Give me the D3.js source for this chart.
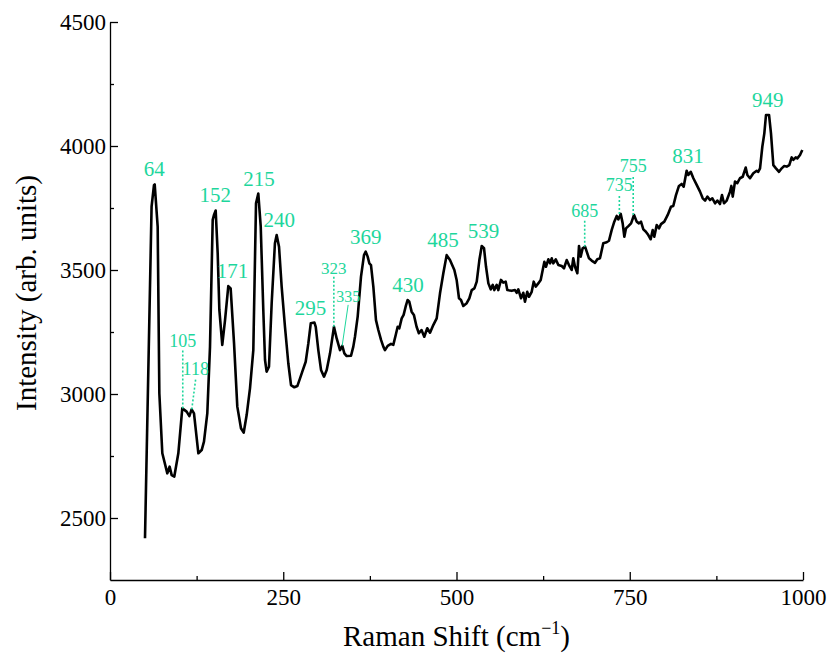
<!DOCTYPE html>
<html>
<head lang="en">
    <meta charset="utf-8">
    <script src="https://d3js.org/d3.v7.min.js"></script>
    <style>
        body { margin: 0; background: #fff; }
        svg text { font-family: "Liberation Serif", "Times New Roman", serif !important; }
    </style>
</head>
<body>
    <div id="chart"></div>

    <script>
        // Raman spectrum
        const shift = [50.5, 60, 63.5, 64.5, 68.8, 71.2, 75.5, 82.7, 86, 89, 92.8, 98.6, 104.3, 110.6, 114.5, 117.8,
            121.2, 127.5, 132.3, 135.6, 140.4, 144.3, 148.2, 150, 152.5, 155.4, 157.8, 162, 166, 170.7, 174.1, 179,
            183.7, 189, 192.9, 197.2, 202, 206.8, 210.7, 214, 217.5, 221.2, 223.7, 226, 229.4, 233.3, 238, 240.5,
            243.9, 247.7, 252.5, 257.3, 261.2, 266, 270.3, 274.2, 277.5, 282.4, 286.2, 289.7, 295, 296.9, 300.6,
            304.5, 308.8, 312.7, 317.5, 323.2, 327.1, 331.9, 335.2, 338.2, 341.5, 347.8, 351.1, 353.5, 357.4, 362.2,
            366.5, 369, 371.8, 374.2, 376.6, 380, 383.8, 387.2, 391.1, 394.4, 396.8, 400.7, 405.5, 408.8, 412.3,
            415.1, 417.5, 420.9, 423.7, 426.6, 429.4, 431.9, 435.2, 438.5, 442.4, 445.7, 449.5, 453.5, 457.8, 461.8,
            466.5, 471.4, 476.2, 481, 485.8, 490.6, 496.9, 500.2, 503.6, 506.5, 509.8, 514.7, 518.5, 522, 525.8,
            529.2, 533, 536.4, 539.7, 542.6, 546, 549.4, 552.3, 554.6, 558, 560.3, 564.2, 567.5, 571, 573.3, 579.6,
            584.4, 586.9, 589.2, 593.1, 596.4, 598.8, 602.1, 604.6, 608.5, 611.4, 614.3, 618, 621.5, 624.4, 626.8,
            629.1, 632.5, 635, 637.4, 639.7, 643.2, 647, 651.8, 655.1, 659, 662.3, 666.2, 668.5, 671, 674.4, 676.8,
            679.2, 682, 685.5, 691.2, 695, 699.9, 703.2, 707, 711.8, 716.7, 720, 723.9, 727.7, 731.2, 733.5, 737,
            739.8, 742.2, 744.6, 748, 751.9, 756.2, 760, 763.3, 766.2, 769.6, 773, 776.8, 780.2, 783.1, 785.4, 788.9,
            792.2, 795.1, 799.9, 804.8, 809.5, 812.8, 816.7, 821, 824.9, 827.8, 832.1, 834.5, 838, 841.8, 846.6,
            851.4, 855.3, 858.7, 862, 865.8, 869.2, 873.2, 876.4, 880.2, 883.1, 886, 889.9, 894.7, 896.6, 898.6,
            901.9, 905.2, 909, 913, 917.3, 919.7, 923.5, 928.3, 933.2, 935.5, 938, 941.3, 944.2, 946.6, 951, 953.8,
            957.2, 961, 965.4, 969.3, 972.6, 976.5, 980.2, 983.7, 986, 989.5, 991.8, 995.7, 999];

        const intensity = [2418, 3755, 3843, 3845, 3675, 3003, 2761, 2680, 2707, 2673, 2667, 2761, 2942, 2929, 2911, 2938,
            2922, 2761, 2774, 2808, 2922, 3190, 3702, 3722, 3740, 3567, 3339, 3198, 3298, 3435, 3426, 3204,
            2949, 2862, 2844, 2915, 3023, 3177, 3769, 3808, 3675, 3339, 3137, 3090, 3110, 3366, 3608, 3641,
            3594, 3433, 3271, 3124, 3036, 3027, 3032, 3063, 3090, 3130, 3204, 3285, 3288, 3271, 3177,
            3097, 3070, 3097, 3164, 3271, 3224, 3177, 3194, 3164, 3153, 3154, 3191, 3231, 3312, 3473,
            3560, 3574, 3554, 3527, 3520, 3433, 3298, 3258, 3218, 3191, 3177, 3194, 3202, 3198, 3238,
            3271, 3265, 3305, 3319, 3352, 3379, 3372, 3332, 3319, 3271, 3245, 3258, 3231, 3265, 3247,
            3278, 3305, 3406, 3487, 3560, 3540, 3500, 3460, 3386, 3379, 3355, 3366, 3386, 3419, 3426,
            3453, 3540, 3597, 3588, 3513, 3446, 3422, 3440, 3419, 3440, 3419, 3460, 3449, 3453, 3419, 3416,
            3419, 3408, 3422, 3386, 3408, 3372, 3412, 3392, 3412, 3453, 3433, 3446, 3460, 3500, 3533,
            3513, 3543, 3527, 3547, 3527, 3543, 3520, 3516, 3507, 3540, 3520, 3500, 3547, 3513, 3487, 3597,
            3554, 3587, 3594, 3547, 3538, 3529, 3543, 3547, 3608, 3612, 3618, 3661, 3695, 3718, 3704, 3726,
            3688, 3634, 3668, 3677, 3688, 3722, 3695, 3688, 3695, 3664, 3655, 3641, 3624, 3661, 3634, 3681,
            3668, 3685, 3695, 3722, 3755, 3758, 3802, 3839, 3847, 3836, 3900, 3883, 3896, 3870, 3843,
            3816, 3789, 3780, 3796, 3782, 3789, 3769, 3780, 3766, 3802, 3769, 3780, 3816, 3839, 3796,
            3857, 3850, 3870, 3876, 3913, 3883, 3870, 3890, 3900, 3896, 3910, 3997, 4051, 4125, 4125, 4051,
            3923, 3910, 3896, 3910, 3919, 3917, 3923, 3954, 3944, 3954, 3950, 3964, 3984];

        // labelled peaks (position in cm-1, intensity at the top of the peak)
        const peakShift = [64, 152, 171, 215, 240, 295, 369, 430, 485, 539, 831, 949];
        const peakTop = [3845, 3740, 3435, 3808, 3641, 3288, 3574, 3379, 3560, 3597, 3900, 4125];

        // small peaks marked with a leader line
        const minorShift = [105, 118, 323, 335, 685, 735, 755];
        const minorTop = [2942, 2938, 3271, 3194, 3594, 3726, 3722];

        const xTicks = [0, 250, 500, 750, 1000];
        const yTicks = [2500, 3000, 3500, 4000, 4500];

        const width = 830;
        const height = 655;
        const green = '#1ed69c';
        const serif = '"Liberation Serif", "Times New Roman", serif';

        const svg = d3.create('svg')
            .attr('width', width)
            .attr('height', height)
            .style('font-family', serif);

        const xScale = d3.scaleLinear()
            .domain([0, 1000])
            .range([110, 803]);

        const yScale = d3.scaleLinear()
            .domain([2250, 4500])
            .range([580, 22]);

        // axes, ticks pointing inwards
        svg.append('g')
            .attr('transform', `translate(0, ${yScale(2250)})`)
            .call(d3.axisBottom(xScale).tickValues(xTicks).tickSizeInner(-8).tickSizeOuter(0).tickPadding(9)
                .tickFormat(d3.format('d')));
        svg.append('g')
            .attr('transform', `translate(0, ${yScale(2250)})`)
            .call(d3.axisBottom(xScale).tickValues([125, 375, 625, 875]).tickSizeInner(-4).tickSizeOuter(0)
                .tickFormat(''))
            .select('.domain').remove();

        svg.append('g')
            .attr('transform', `translate(${xScale(0)}, 0)`)
            .call(d3.axisLeft(yScale).tickValues(yTicks).tickSizeInner(-8).tickSizeOuter(0).tickPadding(4)
                .tickFormat(d3.format('d')));
        svg.append('g')
            .attr('transform', `translate(${xScale(0)}, 0)`)
            .call(d3.axisLeft(yScale).tickValues([2750, 3250, 3750, 4250]).tickSizeInner(-4).tickSizeOuter(0)
                .tickFormat(''))
            .select('.domain').remove();

        svg.selectAll('g').attr('font-family', serif);
        svg.selectAll('.domain, .tick line')
            .attr('stroke', '#000')
            .attr('stroke-width', 1.3);
        svg.selectAll('.tick text')
            .attr('fill', '#000')
            .attr('font-size', '23px')
            .style('font-family', serif);

        // axis titles
        svg.append('text')
            .attr('transform', `translate(36, ${(22 + 580) / 2 - 8}) rotate(-90)`)
            .attr('text-anchor', 'middle')
            .attr('font-size', '29px')
            .style('font-family', serif)
            .text('Intensity (arb. units)');

        const xTitle = svg.append('text')
            .attr('x', (110 + 803) / 2)
            .attr('y', 646)
            .attr('text-anchor', 'middle')
            .attr('font-size', '29px')
            .style('font-family', serif);
        xTitle.append('tspan').text('Raman Shift (cm');
        xTitle.append('tspan').attr('font-size', '18px').attr('dy', -12).text('\u22121');
        xTitle.append('tspan').attr('dy', 12).text(')');

        // the spectrum
        const line = d3.line()
            .x(d => xScale(d[0]))
            .y(d => yScale(d[1]));

        svg.append('path')
            .datum(d3.zip(shift, intensity))
            .attr('fill', 'none')
            .attr('stroke', '#000')
            .attr('stroke-width', 2.6)
            .attr('stroke-linejoin', 'round')
            .attr('d', line);

        // peak labels
        const nudge = {171: 4, 240: 3, 295: -4, 485: -3, 831: 2};
        svg.append('g')
            .selectAll('text')
            .data(d3.zip(peakShift, peakTop))
            .join('text')
            .attr('x', d => xScale(d[0]) + (nudge[d[0]] || 0))
            .attr('y', d => yScale(d[1]) - 8)
            .attr('text-anchor', 'middle')
            .attr('font-size', '21px')
            .attr('fill', green)
            .style('font-family', serif)
            .text(d => d[0]);

        // leader lines: how far above the peak the line starts, sideways offset of the top
        const leader = {
            105: {lift: 58, dx: 0, dash: '2,2', size: 18},
            118: {lift: 31, dx: 4, dash: '2,2', size: 18},
            323: {lift: 50, dx: 0, dash: '2,2', size: 17},
            335: {lift: 41, dx: 6, dash: null, size: 16},
            685: {lift: 27, dx: 0, dash: '2,2', size: 18},
            735: {lift: 20, dx: 0, dash: '2,2', size: 18},
            755: {lift: 40, dx: 0, dash: '2,2', size: 18}
        };

        const minor = svg.append('g')
            .selectAll('g')
            .data(d3.zip(minorShift, minorTop))
            .join('g');

        minor.append('line')
            .attr('x1', d => xScale(d[0]))
            .attr('y1', d => yScale(d[1]))
            .attr('x2', d => xScale(d[0]) + leader[d[0]].dx)
            .attr('y2', d => yScale(d[1]) - leader[d[0]].lift)
            .attr('stroke', green)
            .attr('stroke-width', d => leader[d[0]].dash ? 1.6 : 1)
            .attr('stroke-dasharray', d => leader[d[0]].dash);

        minor.append('text')
            .attr('x', d => xScale(d[0]) + leader[d[0]].dx)
            .attr('y', d => yScale(d[1]) - leader[d[0]].lift - 3)
            .attr('text-anchor', 'middle')
            .attr('font-size', d => leader[d[0]].size + 'px')
            .attr('fill', green)
            .style('font-family', serif)
            .text(d => d[0]);

        document.getElementById('chart').appendChild(svg.node());
    </script>
</body>
</html>
